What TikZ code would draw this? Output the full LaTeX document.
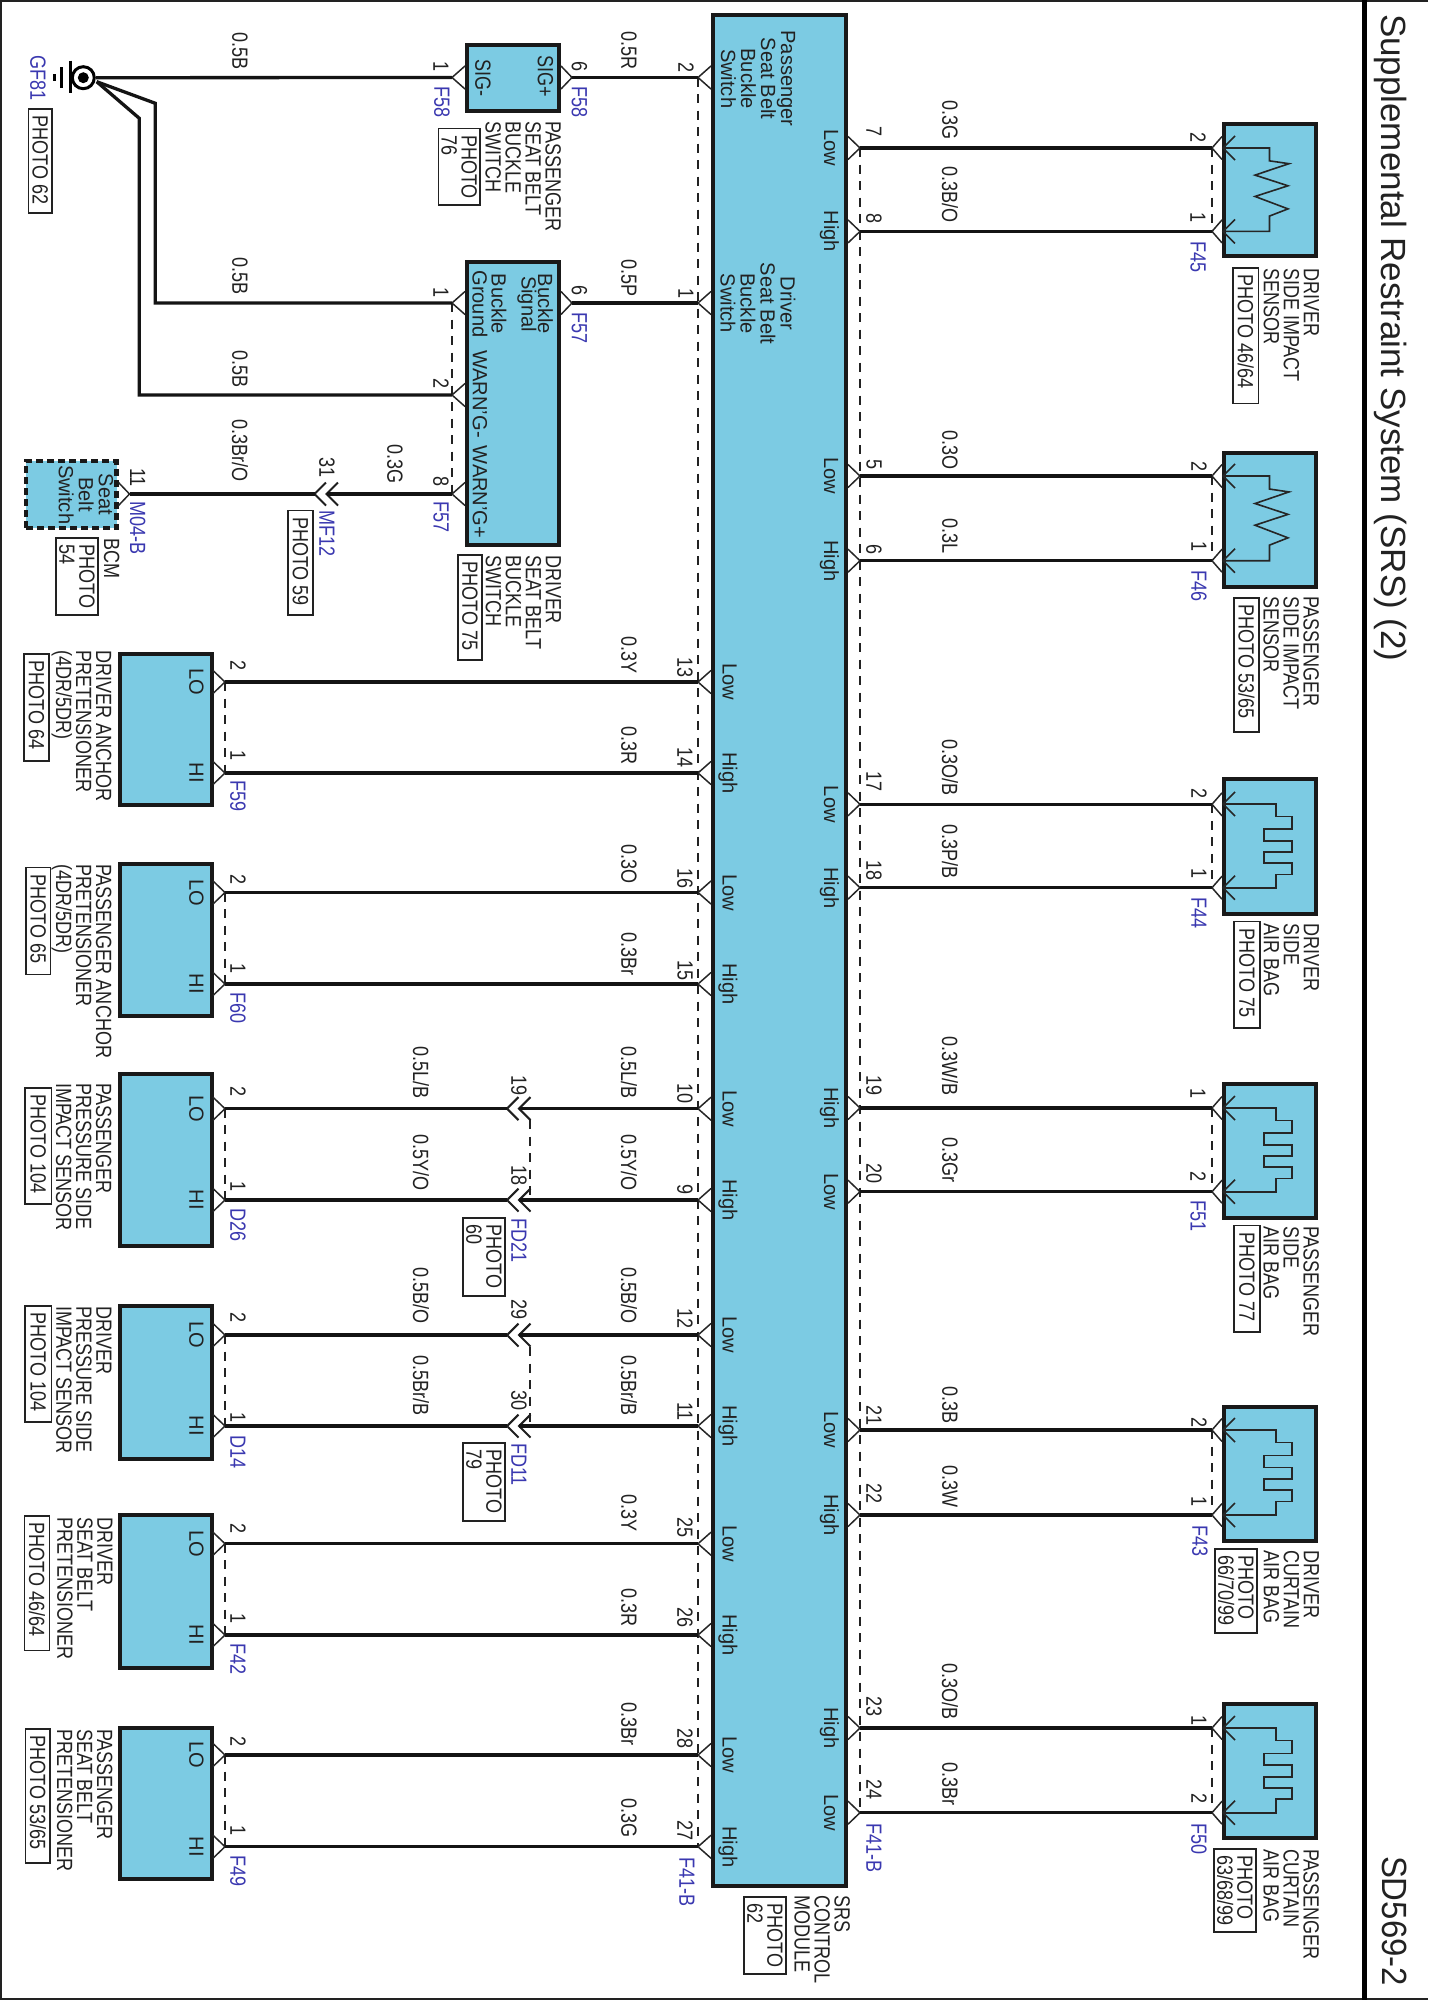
\documentclass[tikz,border=0pt]{standalone}
\usepackage{fontspec}
\setmainfont{Liberation Sans}
\definecolor{mod}{HTML}{7CCBE3}
\definecolor{ink}{HTML}{222222}
\definecolor{conn}{HTML}{3A38B0}
\newcount\tcnt
\tikzset{
 box/.style={draw=black!90,line width=4pt,fill=mod,inner sep=0pt,outer sep=0pt},
 dbox/.style={box,dash pattern=on 7pt off 4pt,line width=4.5pt},
 pbox/.style={draw=ink,line width=1.3pt,fill=white,inner sep=0pt,outer sep=0pt},
 wire/.style={draw=black!92,line width=3.3pt,line join=miter},
 pinline/.style={draw=black!85,line width=1.5pt},
 inline/.style={draw=black!88,line width=2.1pt},
 thinline/.style={draw=black!85,line width=1.6pt},
 joint/.style={draw=ink,line width=1.1pt,dash pattern=on 9pt off 7.5pt},
 basetxt/.style={rotate=-90,inner sep=0pt,outer sep=0pt,text=ink,align=left},
 lab/.style={basetxt,xscale=.82,font=\fontsize{22}{20}\selectfont},
 blu/.style={lab,text=conn},
 mid/.style={basetxt,xscale=.98,font=\fontsize{20.5}{20}\selectfont,align=center},
 head/.style={basetxt,font=\fontsize{35}{35}\selectfont},
}
% text helpers: x centre across the text, y where the text starts
\newcommand\tlab[3]{\global\advance\tcnt by 1 \node[lab,anchor=west] (t\the\tcnt) at (#1,#2) {#3};}
\newcommand\tblue[3]{\global\advance\tcnt by 1 \node[blu,anchor=west] (t\the\tcnt) at (#1,#2) {#3};}
\newcommand\tmid[3]{\global\advance\tcnt by 1 \node[mid,anchor=center] (t\the\tcnt) at (#1,#2) {#3};}
\newcommand\tblock[3]{\global\advance\tcnt by 1 \node[lab,anchor=north west] (t\the\tcnt) at (#1,#2) {#3};}
% box from stroke outer edges
\newcommand\modbox[6][box]{\node[#1,minimum width={(#5-#3-4)*1pt},minimum height={(#6-#4-4)*1pt}] (#2) at ({(#3+#5)/2},{(#4+#6)/2}) {};}
\newcommand\photobox[6]{\node[pbox,minimum width={(#4-#2)*1pt},minimum height={(#5-#3)*1pt}] (#1) at ({(#2+#4)/2},{(#3+#5)/2}) {};
 \node[lab,anchor=west] (#1t) at ({(#2+#4)/2},{#3+6.5}) {#6};}
% pin: named tip and its chevron
\newcommand\pinat[4]{\coordinate (#1) at (#2,#3);
 \draw[pinline] ([shift={(#4,-11.5)}]#1) -- (#1) -- ([shift={(#4,11.5)}]#1);}
\newcommand\link[7]{\pinat{#1}{#2}{#7}{#3}\pinat{#4}{#5}{#7}{#6}\draw[wire] (#1) -- (#4);}
% inline connector, two chevrons
\newcommand\inlinecon[3]{\coordinate (#1) at (#2,#3);\coordinate (#1b) at ({#2+12},#3);
 \draw[inline] ([shift={(11.5,-11.5)}]#1) -- (#1) -- ([shift={(11.5,11.5)}]#1);
 \draw[inline] ([shift={(11.5,-11.5)}]#1b) -- (#1b) -- ([shift={(11.5,11.5)}]#1b);}
% wire broken by an inline connector
\newcommand\cutlink[3]{\inlinecon{#3}{507}{#2}\pinat{b#1}{225}{#2}{-12}\pinat{s#1}{698}{#2}{13}
 \draw[wire] (b#1) -- (#3);\draw[wire] (#3b) -- (s#1);}
% inner pin of a squib/sensor box
\newcommand\innerpin[2]{\coordinate (#1) at (1223,#2);
 \draw[thinline] ([shift={(12,-12)}]#1) -- (#1) -- ([shift={(12,12)}]#1);}
\newcommand\sqib[2]{\pgfmathsetmacro\hd{#2-#1}
 \innerpin{ia#1}{#1}\innerpin{ib#1}{#2}
 \draw[thinline] (ia#1) -- (1275.7,#1) -- (1275.7,{#1+.148*\hd}) -- (1292,{#1+.148*\hd}) -- (1292,{#1+.3*\hd}) -- (1264,{#1+.3*\hd}) -- (1264,{#1+.44*\hd}) -- (1292,{#1+.44*\hd}) -- (1292,{#1+.576*\hd}) -- (1264,{#1+.576*\hd}) -- (1264,{#1+.708*\hd}) -- (1292,{#1+.708*\hd}) -- (1292,{#1+.84*\hd}) -- (1275.7,{#1+.84*\hd}) -- (1275.7,#2) -- (ib#1);}
\newcommand\zigz[2]{\pgfmathsetmacro\hd{#2-#1}
 \innerpin{ia#1}{#1}\innerpin{ib#1}{#2}
 \draw[thinline] (ia#1) -- (1269.5,#1) -- (1269.5,{#1+.154*\hd}) -- (1289,{#1+.188*\hd}) -- (1255,{#1+.325*\hd}) -- (1288,{#1+.453*\hd}) -- (1255,{#1+.581*\hd}) -- (1288,{#1+.73*\hd}) -- (1269.5,{#1+.816*\hd}) -- (1269.5,#2) -- (ib#1);}
\begin{document}
\begin{tikzpicture}[x=1pt,y=-1pt]
\useasboundingbox (0,0) rectangle (1428,2000);
\fill[white] (0,0) rectangle (1428,2000);
% frame
\draw[draw=ink,line width=1.6pt] (1428,1) -- (1,1) -- (1,1999) -- (1428,1999);
\coordinate (ft) at (1364.5,0);\coordinate (fb) at (1364.5,2000);
\draw[draw=black,line width=4.5pt] (ft) -- (fb);
% modules
\modbox{srs}{711}{13}{848}{1888}
\modbox{sigsw}{465}{43}{561}{113}
\modbox{bucksw}{465}{260}{561}{547}
\modbox[dbox]{bcm}{24}{459}{118.5}{530}
\modbox{danch}{118}{652}{213.5}{807}
\modbox{panch}{118}{862}{213.5}{1018}
\modbox{ppres}{118}{1072}{213.5}{1248}
\modbox{dpres}{118}{1304}{213.5}{1461}
\modbox{dpret}{118}{1513}{213.5}{1670}
\modbox{ppret}{118}{1726}{213.5}{1881}
\modbox{dsis}{1222}{121.5}{1318}{258}
\modbox{psis}{1222}{450.7}{1318}{589}
\modbox{dsab}{1222}{777.3}{1318}{915.7}
\modbox{psab}{1222}{1082}{1318}{1220}
\modbox{dcab}{1222}{1405}{1318}{1542.7}
\modbox{pcab}{1222}{1702}{1318}{1840}
% joint dashes
\coordinate (ja) at (698,77.5);\coordinate (jb) at (698,1846.7);\draw[joint] (ja) -- (jb);
\coordinate (jc) at (860,148);\coordinate (jd) at (860,1812.7);\draw[joint] (jc) -- (jd);
\foreach \n/\x/\ya/\yb in {a/452/303/494,b/225/682/773,c/225/892.5/984,d/225/1108.7/1200,e/225/1335/1426,f/225/1543.7/1635,g/225/1755/1846.7,h/1212/148/231.4,i/1212/476/560.7,j/1212/804.3/887.7,k/1212/1108/1191.7,l/1212/1430/1515,m/1212/1728/1812.7,n/530/1120/1200,o/530/1347/1426}
 {\coordinate (u\n) at (\x,\ya);\coordinate (v\n) at (\x,\yb);\draw[joint] (u\n) -- (v\n);}
% ground
\coordinate (gc) at (83.3,77.7);
\node[draw=black,line width=3pt,circle,minimum size=22pt,inner sep=0pt,fill=white] (gring) at (gc) {};
\node[fill=black,circle,minimum size=11pt,inner sep=0pt] (gdot) at (gc) {};
\coordinate (gb1) at (70.7,60.7);\coordinate (gb2) at (70.7,93.3);\draw[draw=black,line width=3pt] (gb1) -- (gb2);
\coordinate (gs1) at (61,67);\coordinate (gs2) at (61,88);\draw[draw=black,line width=3pt] (gs1) -- (gs2);
\coordinate (gp1) at (54.3,74);\coordinate (gp2) at (54.3,81);\draw[draw=black,line width=3pt] (gp1) -- (gp2);
% wires to the ground
\coordinate (g0) at (96,77.7);\coordinate (g1) at (96.7,81.7);
\pinat{f1}{452}{77.5}{13}\pinat{h1}{452}{303}{13}\pinat{h2}{452}{395}{13}
\draw[wire] (g0) -- (f1);
\draw[wire] (g1) -- (155.3,103.3) -- (155.3,303) -- (h1);
\draw[wire] (g1) -- (139.3,118.3) -- (139.3,395) -- (h2);
% top switches to SRS
\link{f6}{572}{-11}{s2}{698}{13}{77.5}
\link{h6}{572}{-11}{s1}{698}{13}{303}
% BCM line
\pinat{h8}{452}{494}{13}\pinat{bc}{129.5}{494}{-11}
\inlinecon{mf}{314.5}{494}
\draw[wire] (h8) -- (mfb);\draw[wire] (mf) -- (bc);
% left pretensioners
\link{b13}{225}{-12}{s13}{698}{13}{682}
\link{b14}{225}{-12}{s14}{698}{13}{773}
\link{b16}{225}{-12}{s16}{698}{13}{892.5}
\link{b15}{225}{-12}{s15}{698}{13}{984}
\cutlink{10}{1108.7}{fda}
\cutlink{9}{1200}{fdb}
\cutlink{12}{1335}{fdc}
\cutlink{11}{1426}{fdd}
\link{b25}{225}{-12}{s25}{698}{13}{1543.7}
\link{b26}{225}{-12}{s26}{698}{13}{1635}
\link{b28}{225}{-12}{s28}{698}{13}{1755}
\link{b27}{225}{-12}{s27}{698}{13}{1846.7}
% right devices
\link{r7}{860}{-12}{q7}{1212}{10}{148}
\link{r8}{860}{-12}{q8}{1212}{10}{231.4}
\link{r5}{860}{-12}{q5}{1212}{10}{476}
\link{r6}{860}{-12}{q6}{1212}{10}{560.7}
\link{r17}{860}{-12}{q17}{1212}{10}{804.3}
\link{r18}{860}{-12}{q18}{1212}{10}{887.7}
\link{r19}{860}{-12}{q19}{1212}{10}{1108}
\link{r20}{860}{-12}{q20}{1212}{10}{1191.7}
\link{r21}{860}{-12}{q21}{1212}{10}{1430}
\link{r22}{860}{-12}{q22}{1212}{10}{1515}
\link{r23}{860}{-12}{q23}{1212}{10}{1728}
\link{r24}{860}{-12}{q24}{1212}{10}{1812.7}
\zigz{148}{231.4}\zigz{476}{560.7}
\sqib{804}{887.7}\sqib{1108}{1191.7}\sqib{1430}{1515}\sqib{1728}{1812.7}
% photo boxes
\photobox{pa}{28.5}{109}{52}{213}{PHOTO 62}
\photobox{pb}{438.5}{128.6}{480}{205}{PHOTO\\76}
\photobox{pc}{56}{538}{98}{615}{PHOTO\\54}
\photobox{pd}{288}{510.6}{313}{615}{PHOTO 59}
\photobox{pe}{458}{555}{482}{660}{PHOTO 75}
\photobox{pf}{24}{654}{49}{761}{PHOTO 64}
\photobox{pg}{26}{867.7}{50.5}{974.6}{PHOTO 65}
\photobox{ph}{25}{1088}{51.4}{1204}{PHOTO 104}
\photobox{pi}{463}{1218}{505}{1296}{PHOTO\\60}
\photobox{pj}{25}{1306}{51.4}{1422}{PHOTO 104}
\photobox{pk}{463}{1443}{505}{1521}{PHOTO\\79}
\photobox{pl}{24.7}{1516}{49.4}{1650.7}{PHOTO 46/64}
\photobox{pm}{25.8}{1729}{50}{1863}{PHOTO 53/65}
\photobox{pn}{744}{1897}{786}{1974}{PHOTO\\62}
\photobox{po}{1233}{268}{1258.5}{403.6}{PHOTO 46/64}
\photobox{pp}{1234}{598}{1259}{732}{PHOTO 53/65}
\photobox{pq}{1234}{921.7}{1260}{1028}{PHOTO 75}
\photobox{pr}{1234}{1225.7}{1260}{1332}{PHOTO 77}
\photobox{ps}{1215}{1549}{1257}{1633}{PHOTO\\66/70/99}
\photobox{pt}{1214}{1849}{1256}{1932}{PHOTO\\63/68/99}
% title
\node[head,anchor=west] (title) at (1391,14) {Supplemental Restraint System (SRS) (2)};
\node[head,xscale=.94,anchor=west] (code) at (1394.5,1856) {SD569-2};
% blocks
\tblock{561}{121}{PASSENGER\\SEAT BELT\\BUCKLE\\SWITCH}
\tblock{561}{555}{DRIVER\\SEAT BELT\\BUCKLE\\SWITCH}
\tblock{111.6}{650}{DRIVER ANCHOR\\PRETENSIONER\\(4DR/5DR)}
\tblock{111.6}{864}{PASSENGER ANCHOR\\PRETENSIONER\\(4DR/5DR)}
\tblock{111.6}{1083}{PASSENGER\\PRESSURE SIDE\\IMPACT SENSOR}
\tblock{111.6}{1306}{DRIVER\\PRESSURE SIDE\\IMPACT SENSOR}
\tblock{112.4}{1517}{DRIVER\\SEAT BELT\\PRETENSIONER}
\tblock{112.4}{1729}{PASSENGER\\SEAT BELT\\PRETENSIONER}
\tblock{850}{1895}{SRS\\CONTROL\\MODULE}
\tblock{1319}{268}{DRIVER\\SIDE IMPACT\\SENSOR}
\tblock{1319}{596}{PASSENGER\\SIDE IMPACT\\SENSOR}
\tblock{1319}{923}{DRIVER\\SIDE\\AIR BAG}
\tblock{1319}{1226}{PASSENGER\\SIDE\\AIR BAG}
\tblock{1319}{1550}{DRIVER\\CURTAIN\\AIR BAG}
\tblock{1319}{1849}{PASSENGER\\CURTAIN\\AIR BAG}
\tlab{111.6}{538}{BCM}
% module inner text
\tmid{758}{78.6}{Passenger\\Seat Belt\\Buckle\\Switch}
\tmid{758}{303.5}{Driver\\Seat Belt\\Buckle\\Switch}
\tlab{545.5}{55}{SIG+}\tlab{483}{59}{SIG-}
\tmid{545.5}{304}{Buckle}\tmid{527}{304}{Signal}\tmid{499}{304}{Buckle}\tmid{480}{304}{Ground}
\tmid{480}{394}{WARN'G-}\tmid{480}{492}{WARN'G+}
\tmid{85.9}{494.6}{Seat\\Belt\\Switch}
\foreach \y in {682,892.5,1108.7,1335,1543.7,1755}{\tmid{196.5}{\y}{LO}}
\foreach \y in {773,984,1200,1426,1635,1846.7}{\tmid{196.5}{\y}{HI}}
\foreach \y in {682,892.5,1108.7,1335,1543.7,1755}{\tmid{729.5}{\y}{Low}}
\foreach \y in {773,984,1200,1426,1635,1846.7}{\tmid{728}{\y}{High}}
\foreach \y in {148,476,804.3,1191.7,1430,1812.7}{\tmid{831}{\y}{Low}}
\foreach \y in {231.4,560.7,887.7,1108,1515,1728}{\tmid{829.5}{\y}{High}}
% left wire labels
\tlab{240}{32}{0.5B}\tlab{240}{257}{0.5B}\tlab{240}{350}{0.5B}\tlab{240}{419.6}{0.3Br/O}
\tlab{629}{31}{0.5R}\tlab{629}{259}{0.5P}\tlab{395}{444.6}{0.3G}
\tlab{629}{636}{0.3Y}\tlab{629}{726}{0.3R}\tlab{629}{844}{0.3O}\tlab{629}{932}{0.3Br}
\tlab{421}{1046}{0.5L/B}\tlab{629}{1046}{0.5L/B}\tlab{421}{1134}{0.5Y/O}\tlab{629}{1134}{0.5Y/O}
\tlab{421}{1267}{0.5B/O}\tlab{629}{1267}{0.5B/O}\tlab{421}{1355}{0.5Br/B}\tlab{629}{1355}{0.5Br/B}
\tlab{629}{1494}{0.3Y}\tlab{629}{1588}{0.3R}\tlab{629}{1702}{0.3Br}\tlab{629}{1798}{0.3G}
% left pin numbers
\tlab{441}{61}{1}\tlab{579.4}{61}{6}\tlab{686}{62.5}{2}\tlab{441}{287.5}{1}\tlab{579.4}{285.7}{6}\tlab{686}{288.5}{1}
\tlab{441}{378.6}{2}\tlab{441}{476.8}{8}\tlab{327}{457}{31}\tlab{137.7}{468}{11}
\tlab{238}{660}{2}\tlab{238}{750.7}{1}\tlab{685}{657}{13}\tlab{685}{747}{14}
\tlab{238}{874}{2}\tlab{238}{963.5}{1}\tlab{685}{868}{16}\tlab{685}{960}{15}
\tlab{238}{1086}{2}\tlab{238}{1181}{1}\tlab{519}{1075}{19}\tlab{519}{1165}{18}\tlab{685}{1083}{10}\tlab{685}{1184}{9}
\tlab{238}{1312}{2}\tlab{238}{1412}{1}\tlab{519}{1299}{29}\tlab{519}{1390}{30}\tlab{685}{1308}{12}\tlab{685}{1402}{11}
\tlab{238}{1523}{2}\tlab{238}{1613}{1}\tlab{685}{1517}{25}\tlab{685}{1607}{26}
\tlab{238}{1736}{2}\tlab{238}{1825}{1}\tlab{685}{1728}{28}\tlab{685}{1820}{27}
% connector codes
\tblue{38}{55}{GF81}\tblue{442}{86}{F58}\tblue{579.4}{86}{F58}\tblue{579.4}{312}{F57}\tblue{441}{501.8}{F57}
\tblue{327}{510.7}{MF12}\tblue{137.7}{501.8}{M04-B}\tblue{238}{780.7}{F59}\tblue{238}{992}{F60}
\tblue{238}{1208}{D26}\tblue{519}{1218}{FD21}\tblue{238}{1435}{D14}\tblue{519}{1443}{FD11}
\tblue{238}{1643}{F42}\tblue{238}{1855}{F49}\tblue{687}{1857}{F41-B}\tblue{874}{1823}{F41-B}
\tblue{1198}{241}{F45}\tblue{1199}{570}{F46}\tblue{1199}{897}{F44}\tblue{1198}{1200.7}{F51}\tblue{1200}{1525}{F43}\tblue{1199}{1823}{F50}
% right wire labels
\tlab{950}{100}{0.3G}\tlab{950}{166}{0.3B/O}\tlab{950}{430}{0.3O}\tlab{950}{518.6}{0.3L}
\tlab{950}{739}{0.3O/B}\tlab{950}{824}{0.3P/B}\tlab{950}{1036}{0.3W/B}\tlab{950}{1137}{0.3Gr}
\tlab{950}{1386}{0.3B}\tlab{950}{1465}{0.3W}\tlab{950}{1663}{0.3O/B}\tlab{950}{1762}{0.3Br}
% right pin numbers
\tlab{874}{126}{7}\tlab{874}{213.5}{8}\tlab{874}{459.6}{5}\tlab{874}{544.6}{6}\tlab{874}{771}{17}\tlab{874}{860}{18}
\tlab{874}{1075}{19}\tlab{874}{1163}{20}\tlab{874}{1405}{21}\tlab{874}{1483}{22}\tlab{874}{1696}{23}\tlab{874}{1779}{24}
\tlab{1198}{132}{2}\tlab{1198}{212.5}{1}\tlab{1199}{461}{2}\tlab{1199}{541}{1}\tlab{1199}{788}{2}\tlab{1199}{868}{1}
\tlab{1198}{1088}{1}\tlab{1198}{1171}{2}\tlab{1199}{1417}{2}\tlab{1199}{1496}{1}\tlab{1199}{1715}{1}\tlab{1199}{1793}{2}
\end{tikzpicture}
\end{document}
